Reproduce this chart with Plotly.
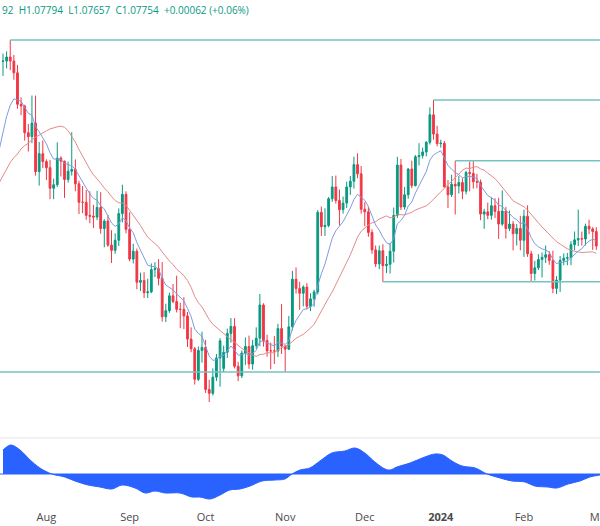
import pandas as pd
import plotly.graph_objects as go

# ---------------- data (EUR/USD daily) ----------------
# trading-day index 0 = 14 Jul 2023 ... 164 = 29 Feb 2024
opens = [1.1227,1.1228,1.1237,1.1228,1.1201,1.1129,1.1125,1.1064,1.1055,1.1086,
         1.0975,1.1016,1.0998,1.0984,1.0937,1.0945,1.1006,1.0999,1.0957,1.0976,
         1.0980,1.0947,1.0905,1.0905,1.0875,1.0873,1.0871,1.0893,1.0845,1.0862,
         1.0807,1.0795,1.0818,1.0879,1.0923,1.0843,1.0775,1.0793,1.0722,1.0726,
         1.0698,1.0700,1.0751,1.0753,1.0731,1.0643,1.0657,1.0691,1.0678,1.0660,
         1.0660,1.0645,1.0592,1.0570,1.0500,1.0566,1.0573,1.0477,1.0468,1.0505,
         1.0549,1.0525,1.0562,1.0605,1.0621,1.0530,1.0508,1.0560,1.0575,1.0535,
         1.0577,1.0594,1.0670,1.0589,1.0565,1.0565,1.0565,1.0616,1.0576,1.0569,
         1.0620,1.0729,1.0708,1.0697,1.0711,1.0667,1.0684,1.0700,1.0882,1.0849,
         1.0852,1.0913,1.0940,1.0909,1.0888,1.0903,1.0940,1.0953,1.0991,1.0970,
         1.0889,1.0883,1.0836,1.0796,1.0764,1.0794,1.0760,1.0763,1.0793,1.0875,
         1.0990,1.0894,1.0922,1.0981,1.0943,1.1009,1.1012,1.1020,1.1042,1.1105,
         1.1061,1.1039,1.1040,1.0940,1.0922,1.0946,1.0942,1.0950,1.0930,1.0973,
         1.0971,1.0952,1.0951,1.0878,1.0883,1.0875,1.0897,1.0884,1.0855,1.0885,
         1.0845,1.0855,1.0833,1.0845,1.0818,1.0873,1.0787,1.0742,1.0755,1.0774,
         1.0779,1.0785,1.0772,1.0708,1.0727,1.0772,1.0777,1.0778,1.0808,1.0819,
         1.0822,1.0821,1.0850,1.0844,1.0838]
highs = [1.1245,1.1250,1.1276,1.1242,1.1219,1.1145,1.1128,1.1084,1.1149,1.1149,
         1.1043,1.1046,1.1003,1.1002,1.0959,1.1042,1.1010,1.1000,1.0998,1.1065,
         1.1003,1.0954,1.0942,1.0933,1.0930,1.0899,1.0931,1.0928,1.0866,1.0876,
         1.0841,1.0834,1.0891,1.0945,1.0930,1.0882,1.0810,1.0799,1.0744,1.0745,
         1.0730,1.0765,1.0768,1.0775,1.0768,1.0673,1.0698,1.0718,1.0737,1.0675,
         1.0688,1.0654,1.0619,1.0574,1.0575,1.0609,1.0590,1.0499,1.0525,1.0558,
         1.0594,1.0577,1.0616,1.0640,1.0640,1.0540,1.0566,1.0596,1.0600,1.0590,
         1.0619,1.0695,1.0674,1.0602,1.0584,1.0599,1.0627,1.0672,1.0578,1.0645,
         1.0748,1.0756,1.0723,1.0715,1.0720,1.0697,1.0705,1.0887,1.0895,1.0891,
         1.0917,1.0965,1.0966,1.0934,1.0918,1.0952,1.0965,1.1009,1.1017,1.0988,
         1.0905,1.0895,1.0843,1.0806,1.0806,1.0809,1.0782,1.0812,1.0893,1.1009,
         1.1004,1.0940,1.0983,1.1000,1.1013,1.1040,1.1030,1.1045,1.1122,1.1139,
         1.1080,1.1048,1.1045,1.0956,1.0968,1.1000,1.0965,1.0960,1.0977,1.0998,
         1.0999,1.0970,1.0957,1.0890,1.0904,1.0916,1.0914,1.0915,1.0932,1.0894,
         1.0886,1.0862,1.0855,1.0874,1.0888,1.0898,1.0794,1.0771,1.0786,1.0790,
         1.0806,1.0793,1.0794,1.0736,1.0782,1.0788,1.0789,1.0816,1.0838,1.0888,
         1.0838,1.0856,1.0865,1.0848,1.0848]
lows = [1.1194,1.1211,1.1207,1.1185,1.1119,1.1104,1.1046,1.1021,1.1040,1.0966,
        1.0943,1.0983,1.0956,1.0912,1.0912,1.0940,1.0964,1.0915,1.0950,1.0966,
        1.0930,1.0878,1.0880,1.0865,1.0857,1.0846,1.0864,1.0833,1.0802,1.0803,
        1.0766,1.0787,1.0805,1.0859,1.0834,1.0770,1.0765,1.0706,1.0702,1.0686,
        1.0686,1.0697,1.0734,1.0715,1.0632,1.0631,1.0652,1.0674,1.0653,1.0617,
        1.0615,1.0574,1.0562,1.0488,1.0496,1.0538,1.0469,1.0448,1.0463,1.0496,
        1.0483,1.0516,1.0549,1.0584,1.0525,1.0496,1.0503,1.0533,1.0524,1.0522,
        1.0570,1.0576,1.0575,1.0552,1.0523,1.0535,1.0551,1.0558,1.0517,1.0567,
        1.0612,1.0696,1.0659,1.0667,1.0660,1.0656,1.0666,1.0694,1.0828,1.0828,
        1.0848,1.0906,1.0902,1.0852,1.0879,1.0892,1.0922,1.0936,1.0960,1.0879,
        1.0850,1.0826,1.0787,1.0757,1.0752,1.0723,1.0743,1.0742,1.0767,1.0869,
        1.0887,1.0888,1.0913,1.0937,1.0941,1.0989,1.1005,1.1010,1.1037,1.1048,
        1.1033,1.1030,1.0939,1.0892,1.0917,1.0877,1.0925,1.0912,1.0923,1.0930,
        1.0936,1.0937,1.0864,1.0844,1.0866,1.0865,1.0869,1.0821,1.0851,1.0822,
        1.0839,1.0795,1.0806,1.0795,1.0780,1.0780,1.0723,1.0726,1.0750,1.0733,
        1.0766,1.0762,1.0697,1.0695,1.0700,1.0761,1.0761,1.0761,1.0795,1.0805,
        1.0806,1.0806,1.0832,1.0796,1.0796]
closes = [1.1228,1.1237,1.1228,1.1201,1.1129,1.1125,1.1064,1.1055,1.1086,1.0975,
          1.1016,1.0998,1.0984,1.0937,1.0945,1.1006,1.0999,1.0957,1.0976,1.0980,
          1.0947,1.0905,1.0905,1.0875,1.0873,1.0871,1.0893,1.0845,1.0862,1.0807,
          1.0795,1.0818,1.0879,1.0923,1.0843,1.0775,1.0793,1.0722,1.0726,1.0698,
          1.0700,1.0751,1.0753,1.0731,1.0643,1.0657,1.0691,1.0678,1.0660,1.0660,
          1.0645,1.0592,1.0570,1.0500,1.0566,1.0573,1.0477,1.0468,1.0505,1.0549,
          1.0588,1.0562,1.0605,1.0621,1.0530,1.0508,1.0560,1.0575,1.0535,1.0577,
          1.0594,1.0670,1.0589,1.0565,1.0565,1.0565,1.0616,1.0576,1.0569,1.0620,
          1.0729,1.0708,1.0697,1.0711,1.0667,1.0684,1.0700,1.0882,1.0849,1.0852,
          1.0913,1.0940,1.0909,1.0888,1.0903,1.0940,1.0953,1.0991,1.0970,1.0889,
          1.0883,1.0836,1.0796,1.0764,1.0794,1.0760,1.0763,1.0793,1.0875,1.0990,
          1.0894,1.0922,1.0981,1.0943,1.1009,1.1012,1.1020,1.1042,1.1105,1.1061,
          1.1039,1.1040,1.0940,1.0922,1.0946,1.0942,1.0950,1.0930,1.0973,1.0971,
          1.0952,1.0951,1.0878,1.0883,1.0875,1.0897,1.0884,1.0855,1.0885,1.0845,
          1.0855,1.0833,1.0845,1.0818,1.0873,1.0787,1.0742,1.0755,1.0774,1.0779,
          1.0785,1.0772,1.0708,1.0727,1.0772,1.0777,1.0778,1.0808,1.0819,1.0822,
          1.0821,1.0850,1.0844,1.0838,1.0805]
# closes of the bars before the visible window (15 Jun - 13 Jul), used for the averages
prior_closes = [1.0944,1.0940,1.0923,1.0915,1.0985,1.0956,1.0894,1.0906,1.0960,1.0913,
                1.0867,1.0910,1.0910,1.0882,1.0853,1.0888,1.0967,1.0970,1.1008,1.1130,
                1.1227]

month_ticks = [12, 35, 56, 78, 100, 121, 144, 165]
month_labels = ["Aug", "Sep", "Oct", "Nov", "Dec", "<b>2024</b>", "Feb", "Mar"]

# lower-pane oscillator, read at sample bars
osc_idx = [0, 2.2, 4.7, 7.5, 10.2, 13.5, 17.1, 19.9, 23.5, 26.8, 30.1, 32.9, 36.5, 39.3,
           42, 44.8, 48.9, 52.2, 54.4, 57.2, 60, 62.7, 65.5, 68.3, 71.6, 75.2, 77.9,
           79.9, 82.1, 84.8, 87.6, 90.9, 94.5, 97.3, 100, 102.8, 105.6, 107, 108.9,
           112.5, 116.6, 119.4, 121.6, 124.1, 126.9, 130.5, 133.8, 137.4, 140.7,
           144.3, 147, 150.6, 153.1, 156.2, 159.5, 162.2, 165]
osc_val = [24, 29, 24, 14, 6, 0, -3, -7, -11, -13, -15, -11, -14, -19,
           -17, -19, -19, -23, -23, -25, -21, -16, -15, -12, -7, -6, -5,
           0, 4, 6, 13, 21, 23, 26, 21, 12, 5, 4, 7,
           11, 17, 20, 19, 13, 8, 6, 0, -4, -7,
           -8, -12, -13, -14, -10, -7, -3, -1]

header_text = "92  H1.07794  L1.07657  C1.07754  +0.00062 (+0.06%)"

# horizontal levels: (anchor bar, which extreme)
level_anchors = [(2, "high"), (119, "high"), (105, "low"), (125, "high")]
support_anchor = 78   # Nov 1 low, drawn across the whole width

# ---------------- derived ----------------
idx = list(range(len(closes)))
all_close = pd.Series(prior_closes + closes)
all_idx = list(range(-len(prior_closes), len(closes)))
ema9 = all_close.ewm(span=9, adjust=False).mean()
sma20 = all_close.rolling(20).mean()
keep = [k for k, v in enumerate(all_idx) if v >= -1]
ma_x = [all_idx[k] for k in keep]

UP, DOWN = "#089981", "#f23645"
fig = go.Figure()
fig.add_trace(go.Candlestick(
    x=idx, open=opens, high=highs, low=lows, close=closes,
    increasing=dict(line=dict(color=UP, width=1), fillcolor=UP),
    decreasing=dict(line=dict(color=DOWN, width=1), fillcolor=DOWN),
    whiskerwidth=0, xaxis="x", yaxis="y", showlegend=False, hoverinfo="skip"))
fig.add_trace(go.Scatter(x=ma_x, y=[sma20[k] for k in keep], mode="lines",
                         line=dict(color="#e48a8a", width=1), xaxis="x", yaxis="y",
                         showlegend=False, hoverinfo="skip"))
fig.add_trace(go.Scatter(x=ma_x, y=[ema9[k] for k in keep], mode="lines",
                         line=dict(color="#7f9be0", width=1), xaxis="x", yaxis="y",
                         showlegend=False, hoverinfo="skip"))
fig.add_trace(go.Scatter(x=osc_idx, y=osc_val, mode="lines", fill="tozeroy",
                         line=dict(color="#2962ff", width=1, shape="spline"),
                         fillcolor="#2962ff", xaxis="x2", yaxis="y2",
                         showlegend=False, hoverinfo="skip"))

RAY = "#74c3c1"
shapes = []
for bar, kind in level_anchors:
    lvl = highs[bar] if kind == "high" else lows[bar]
    shapes.append(dict(type="line", xref="x", yref="y", x0=bar, x1=200, y0=lvl, y1=lvl,
                       line=dict(color=RAY, width=1.5)))
sup = lows[support_anchor]
shapes.append(dict(type="line", xref="x", yref="y", x0=-20, x1=200, y0=sup, y1=sup,
                   line=dict(color=RAY, width=1.5)))
shapes.append(dict(type="line", xref="x2", yref="y2", x0=-20, x1=200, y0=0, y1=0,
                   line=dict(color="#2962ff", width=1)))
shapes.append(dict(type="line", xref="paper", yref="paper", x0=0, x1=1,
                   y0=68 / 506, y1=68 / 506, line=dict(color="#e3e5ea", width=1)))

xr = [-0.83, 165.02]
fig.update_layout(
    width=600, height=526, margin=dict(l=0, r=0, t=0, b=20, autoexpand=False),
    paper_bgcolor="white", plot_bgcolor="white",
    font=dict(family="Open Sans, sans-serif", size=11, color="#4a4a4a"),
    shapes=shapes,
    xaxis=dict(domain=[0, 1], anchor="y", range=xr, showticklabels=False,
               showgrid=False, zeroline=False, rangeslider=dict(visible=False),
               automargin=False),
    yaxis=dict(domain=[1 - 420 / 506, 1 - 30 / 506],
               range=[1.04070, 1.12989], visible=False),
    xaxis2=dict(domain=[0, 1], anchor="y2", matches="x", range=xr,
                tickvals=month_ticks, ticktext=month_labels, showgrid=False,
                zeroline=False, ticks="", ticklabeloverflow="allow",
                ticklabelstandoff=3, automargin=False,
                tickfont=dict(size=11, color="#4a4a4a")),
    yaxis2=dict(domain=[0, 68 / 506], range=[-32, 36], visible=False),
    annotations=[dict(xref="paper", yref="paper", x=0, y=1 - 10 / 506,
                      xanchor="left", yanchor="middle", showarrow=False,
                      text=header_text,
                      font=dict(size=10, color="#089981"))],
)
fig.write_html("out.html")
